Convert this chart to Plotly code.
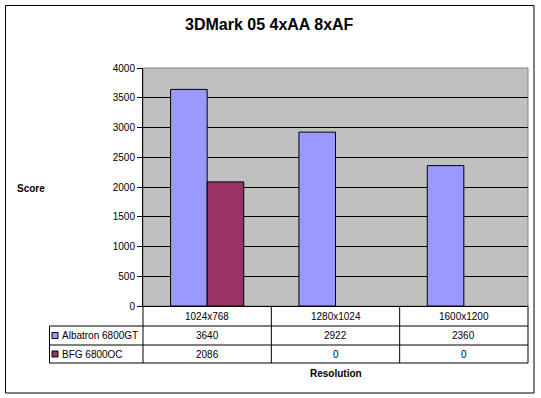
import plotly.graph_objects as go

categories = ["1024x768", "1280x1024", "1600x1200"]
series_names = ["Albatron 6800GT", "BFG 6800OC"]
albatron = [3640, 2922, 2360]
bfg = [2086, 0, 0]
colors = ["#9999FF", "#993366"]
y_ticks = [0, 500, 1000, 1500, 2000, 2500, 3000, 3500, 4000]

W, H = 541, 398
L, R, T, B = 143, 528, 68, 306
PW, PH = R - L, B - T


def px(p):
    return (p - L) / PW


def py(p):
    return (B - p) / PH


FONT = "Arial, Liberation Sans, sans-serif"

fig = go.Figure()
for name, vals, col in zip(series_names, [albatron, bfg], colors):
    fig.add_trace(go.Bar(x=categories, y=vals, name=name,
                         marker=dict(color=col, line=dict(color="black", width=[1 if v else 0 for v in vals]))))

shapes = []
annotations = []


def note(x, y, text, xref="paper", size=10, xanchor="center"):
    annotations.append(dict(x=x, y=y, xref=xref, yref="paper", text=text, showarrow=False,
                            xanchor=xanchor, yanchor="middle",
                            font=dict(family=FONT, size=size, color="black")))


# outer border
shapes.append(dict(type="rect", xref="paper", yref="paper", x0=px(5.5), x1=px(534), y0=py(5.5), y1=py(393),
                   line=dict(color="black", width=1), fillcolor="rgba(0,0,0,0)", layer="above"))
# plot area border (top/right gray)
shapes.append(dict(type="rect", xref="paper", yref="paper", x0=0, x1=1, y0=0, y1=1,
                   line=dict(color="#808080", width=1), fillcolor="rgba(0,0,0,0)", layer="below"))

# table geometry
row_lines = [326, 345, 363]
col_lines = [0, 1 / 3, 2 / 3, 1]
for yl in row_lines:
    shapes.append(dict(type="line", xref="paper", yref="paper", x0=px(49.5), x1=1, y0=py(yl), y1=py(yl),
                       line=dict(color="black", width=1)))
for c in col_lines:
    shapes.append(dict(type="line", xref="paper", yref="paper", x0=c, x1=c, y0=0, y1=py(363),
                       line=dict(color="black", width=1)))
shapes.append(dict(type="line", xref="paper", yref="paper", x0=px(49.5), x1=px(49.5), y0=py(326), y1=py(363),
                   line=dict(color="black", width=1)))

# header row
for cat in categories:
    note(cat, py(316), cat, xref="x")
# value rows
row_centers = [335.5, 354]
for rc, name, vals, col in zip(row_centers, series_names, [albatron, bfg], colors):
    for cat, v in zip(categories, vals):
        note(cat, py(rc), str(v), xref="x")
    shapes.append(dict(type="rect", xref="paper", yref="paper", x0=px(52), x1=px(58), y0=py(rc - 3), y1=py(rc + 3),
                       fillcolor=col, line=dict(color="black", width=1)))
    note(px(60), py(rc), name, xanchor="left")

# axis titles
note(px(335.5), py(373), "<b>Resolution</b>")
note(px(31), py(188), "<b>Score</b>")
# title
note(px(269), py(25), "<b>3DMark 05 4xAA 8xAF</b>", size=16)

fig.update_layout(
    width=W, height=H,
    margin=dict(l=L, r=W - R, t=T, b=H - B, pad=0),
    paper_bgcolor="white", plot_bgcolor="#C0C0C0",
    barmode="group", bargap=0.43, bargroupgap=0,
    showlegend=False,
    shapes=shapes, annotations=annotations,
    font=dict(family=FONT, size=10, color="black"),
)
fig.update_xaxes(showticklabels=False, showgrid=False, showline=True, linecolor="black", linewidth=1,
                 ticks="", zeroline=False, fixedrange=True)
fig.update_yaxes(range=[0, 4000], tickvals=y_ticks, showgrid=True, gridcolor="black", gridwidth=1,
                 showline=True, linecolor="black", linewidth=1, ticks="outside", ticklen=5, tickcolor="black",
                 zeroline=False, tickfont=dict(family=FONT, size=10, color="black"), fixedrange=True)

fig.write_html("out.html", config={"displayModeBar": False},
               post_script="document.body.style.margin='0';document.body.style.overflow='hidden';")
